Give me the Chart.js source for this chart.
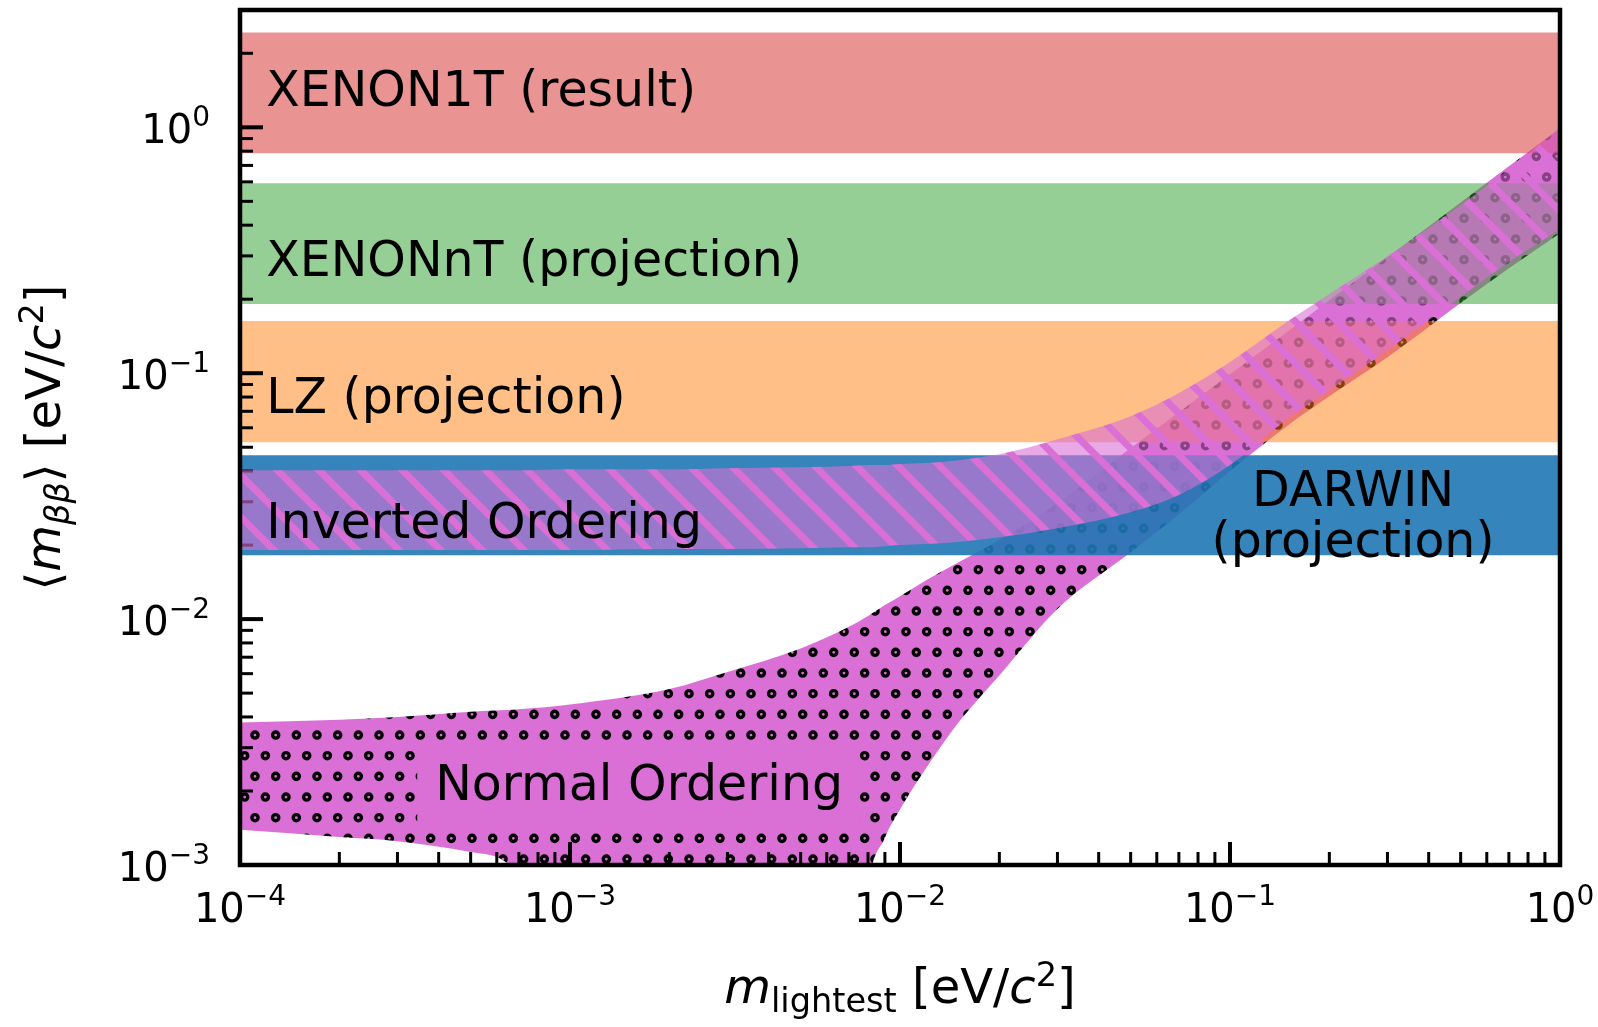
<!DOCTYPE html>
<html>
<head>
<meta charset="utf-8">
<script src="https://cdn.jsdelivr.net/npm/chart.js@4.4.1/dist/chart.umd.min.js"></script>
<style>
  html, body { margin: 0; padding: 0; background: #fff; }
  #wrap { width: 1598px; height: 1027px; position: relative; }
</style>
</head>
<body>
<div id="wrap"><canvas id="chart"></canvas></div>
<script>
// lightest neutrino mass samples (eV) shared by both ordering bands
const mLightest = [1e-4, 2e-4, 3e-4, 5e-4, 7e-4, 1e-3, 2e-3, 3e-3, 5e-3, 7e-3, 8e-3, 9e-3, 1e-2, 1.2e-2,
    1.5e-2, 2e-2, 3e-2, 5e-2, 7e-2, 0.1, 0.15, 0.2, 0.3, 0.5, 0.7, 1.0];

// normal ordering band (lower edge drops below the axis around the cancellation)
const normalUpper = [0.0038, 0.0039, 0.0040, 0.0042, 0.0043, 0.0045, 0.0052, 0.0061, 0.0076, 0.0093, 0.0103,
    0.0114, 0.0124, 0.0144, 0.0170, 0.0210, 0.0296, 0.0496, 0.0694, 0.099, 0.148, 0.198, 0.296, 0.495, 0.694, 0.99];
const normalLower = [0.00139, 0.00130, 0.00125, 0.00113, 0.00090, 0.0001, 0.0001, 0.0001, 0.0001, 0.0001, 0.0008,
    0.00129, 0.00168, 0.00248, 0.00378, 0.0059, 0.0110, 0.0187, 0.0267, 0.040, 0.0615, 0.0806, 0.116, 0.193, 0.267, 0.371];

// inverted ordering band
const invertedUpper = [0.0403, 0.0403, 0.0403, 0.0403, 0.0403, 0.0407, 0.0407, 0.0411, 0.0415, 0.0419, 0.0423,
    0.0423, 0.0427, 0.0431, 0.0443, 0.0468, 0.0539, 0.0669, 0.0830, 0.111, 0.163, 0.210, 0.299, 0.482, 0.675, 1.0];
const invertedLower = [0.0191, 0.0191, 0.0191, 0.0191, 0.0191, 0.0191, 0.0193, 0.0193, 0.0194, 0.0196, 0.0196,
    0.0198, 0.0200, 0.0202, 0.0206, 0.0215, 0.0234, 0.0272, 0.0320, 0.0423, 0.0656, 0.0853, 0.124, 0.204, 0.283, 0.385];

// experiment sensitivity bands
const experiments = ['XENON1T', 'XENONnT', 'LZ', 'DARWIN'];
const bandLow = [0.784, 0.191, 0.0524, 0.0182];
const bandHigh = [2.43, 0.592, 0.163, 0.0464];
const bandColors = ['rgba(214,39,40,0.5)', 'rgba(44,160,44,0.5)', 'rgba(255,127,14,0.5)', 'rgba(31,119,180,0.9)'];

// axis ranges and decade tick exponents
const xRange = [1e-4, 1];
const yRange = [1e-3, 3];
const xDecades = [-4, -3, -2, -1, 0];
const yDecades = [-3, -2, -1, 0];

// text labels placed in data coordinates
const labelTexts = ['XENON1T (result)', 'XENONnT (projection)', 'LZ (projection)', 'Inverted Ordering',
    'Normal Ordering', 'DARWIN', '(projection)'];
const labelM = [1.2e-4, 1.2e-4, 1.2e-4, 1.2e-4, 1.62e-3, 0.236, 0.236];
const labelMbb = [1.217, 0.248, 0.0688, 0.0214, 0.00184, 0.0288, 0.01786];

const FONT = "'DejaVu Sans'";
const LABEL_SIZE = 49;
const font = (size, italic) => `${italic ? 'italic ' : ''}${size}px ${FONT}`;

// --- hatch patterns ---
const dotPattern = () => {
    const w = 62, h = 124, step = 62 / 3;
    const c = document.createElement('canvas');
    c.width = w; c.height = h;
    const g = c.getContext('2d');
    g.fillStyle = 'orchid';
    g.fillRect(0, 0, w, h);
    g.strokeStyle = '#000';
    g.lineWidth = 3.4;
    for (let j = 0; j < 6; j++) {
        const y = 11.7 + j * step;
        const x0 = j % 2 ? 7 : 7 + step / 2;
        for (let i = 0; i < 3; i++) {
            for (const dx of [-w, 0, w]) {
                for (const dy of [-h, 0, h]) {
                    g.beginPath();
                    g.arc(x0 + i * step + dx, y + dy, 3.1, 0, Math.PI * 2);
                    g.stroke();
                }
            }
        }
    }
    return g.createPattern(c, 'repeat');
};

const stripePattern = () => {
    const s = 125, p = s / 3;
    const c = document.createElement('canvas');
    c.width = s; c.height = s;
    const g = c.getContext('2d');
    g.fillStyle = 'rgba(218,112,214,0.6)';
    g.fillRect(0, 0, s, s);
    g.strokeStyle = 'orchid';
    g.lineWidth = 7;
    for (let k = -4; k <= 4; k++) {
        const x = 15.5 + k * p;
        g.beginPath();
        g.moveTo(x - 10, -10);
        g.lineTo(x + s + 10, s + 10);
        g.stroke();
    }
    return g.createPattern(c, 'repeat');
};

// --- text helpers ---
const drawRuns = (ctx, runs, x, y, align) => {
    const widths = runs.map(r => { ctx.font = font(r.s || 48, r.i); return ctx.measureText(r.t).width; });
    const total = widths.reduce((a, b) => a + b, 0);
    let cx = align === 'center' ? x - total / 2 : align === 'right' ? x - total : x;
    runs.forEach((r, i) => {
        ctx.font = font(r.s || 48, r.i);
        ctx.fillText(r.t, cx, y + (r.dy || 0));
        cx += widths[i];
    });
    return total;
};

const expLabel = (e) => [{ t: '10', s: 40 }, { t: (e < 0 ? '\u2212' : '') + Math.abs(e), s: 28, dy: -17 }];

const tickValues = (range) => {
    const out = [];
    const lo = Math.floor(Math.log10(range[0])), hi = Math.ceil(Math.log10(range[1]));
    for (let e = lo; e <= hi; e++) {
        for (let k = 1; k <= 9; k++) {
            const v = k * Math.pow(10, e);
            if (v >= range[0] * 0.999 && v <= range[1] * 1.001) out.push({ v, major: k === 1 });
        }
    }
    return out;
};

// --- datasets ---
const series = (ys) => mLightest.map((m, i) => ({ x: m, y: ys[i] }));
const flat = (v) => [{ x: xRange[0], y: v }, { x: xRange[1], y: v }];
const lineDs = (data, fill, bg) => ({
    data, fill, backgroundColor: bg, borderColor: 'transparent', borderWidth: 0, pointRadius: 0,
    cubicInterpolationMode: 'monotone'
});

const datasets = [
    lineDs(series(normalLower), false, 'transparent'),
    lineDs(series(normalUpper), '-1', dotPattern())
];
experiments.forEach((name, i) => {
    datasets.push(lineDs(flat(bandLow[i]), false, 'transparent'));
    datasets.push(lineDs(flat(bandHigh[i]), '-1', bandColors[i]));
});
datasets.push(lineDs(series(invertedLower), false, 'transparent'));
datasets.push(lineDs(series(invertedUpper), '-1', stripePattern()));
// draw in array order: first dataset at the bottom
datasets.forEach((d, i) => { d.order = datasets.length - i; });
const LAST_BAND_INDEX = 9;

// --- overlay: ticks, labels, frame ---
const overlay = {
    id: 'overlay',
    afterDatasetDraw(chart, args) {
        if (args.index !== LAST_BAND_INDEX) return;
        const { ctx, chartArea: a, scales: { x, y } } = chart;
        ctx.save();
        ctx.strokeStyle = '#000';
        tickValues(xRange).forEach(t => {
            const px = x.getPixelForValue(t.v);
            ctx.lineWidth = t.major ? 4 : 3;
            ctx.beginPath();
            ctx.moveTo(px, a.bottom);
            ctx.lineTo(px, a.bottom - (t.major ? 23 : 13));
            ctx.stroke();
        });
        tickValues(yRange).forEach(t => {
            const py = y.getPixelForValue(t.v);
            ctx.lineWidth = t.major ? 4 : 3;
            ctx.beginPath();
            ctx.moveTo(a.left, py);
            ctx.lineTo(a.left + (t.major ? 23 : 13), py);
            ctx.stroke();
        });
        ctx.restore();
    },
    afterDatasetsDraw(chart) {
        const { ctx, chartArea: a, scales: { x, y } } = chart;
        ctx.save();
        ctx.textAlign = 'left';
        ctx.textBaseline = 'alphabetic';

        // plain box behind the normal ordering label
        ctx.font = font(LABEL_SIZE);
        const noIdx = 4;
        const noX = x.getPixelForValue(labelM[noIdx]);
        const noY = y.getPixelForValue(labelMbb[noIdx]);
        const noW = ctx.measureText(labelTexts[noIdx]).width;
        ctx.fillStyle = 'orchid';
        ctx.fillRect(noX - noW / 2 - 18, noY - 55, noW + 34, 85);

        ctx.fillStyle = '#000';
        labelTexts.forEach((text, i) => {
            const centered = i >= 4;
            drawRuns(ctx, [{ t: text, s: LABEL_SIZE }], x.getPixelForValue(labelM[i]), y.getPixelForValue(labelMbb[i]),
                centered ? 'center' : 'left');
        });

        // tick labels
        xDecades.forEach(e => drawRuns(ctx, expLabel(e), x.getPixelForValue(Math.pow(10, e)), a.bottom + 57, 'center'));
        yDecades.forEach(e => drawRuns(ctx, expLabel(e), a.left - 30, y.getPixelForValue(Math.pow(10, e)) + 16, 'right'));

        // axis titles
        drawRuns(ctx, [
            { t: 'm', i: true }, { t: 'lightest', s: 33.6, dy: 9 }, { t: ' [eV/' },
            { t: 'c', i: true }, { t: '2', s: 33.6, dy: -17 }, { t: ']' }
        ], (a.left + a.right) / 2, a.bottom + 138, 'center');

        ctx.translate(60, (a.top + a.bottom) / 2);
        ctx.rotate(-Math.PI / 2);
        drawRuns(ctx, [
            { t: '\u27E8' }, { t: 'm', i: true }, { t: '\u03B2\u03B2', s: 33.6, i: true, dy: 9 }, { t: '\u27E9' },
            { t: ' [eV/' }, { t: 'c', i: true }, { t: '2', s: 33.6, dy: -17 }, { t: ']' }
        ], 0, 0, 'center');
        ctx.restore();

        // frame
        ctx.save();
        ctx.strokeStyle = '#000';
        ctx.lineWidth = 4.5;
        ctx.strokeRect(a.left, a.top, a.right - a.left, a.bottom - a.top);
        ctx.restore();
    }
};

new Chart(document.getElementById('chart').getContext('2d'), {
    type: 'line',
    data: { datasets },
    options: {
        responsive: true,
        maintainAspectRatio: false,
        devicePixelRatio: 1,
        animation: false,
        layout: { padding: { left: 240, right: 38, top: 10, bottom: 162 } },
        scales: {
            x: { type: 'logarithmic', min: xRange[0], max: xRange[1], display: false },
            y: { type: 'logarithmic', min: yRange[0], max: yRange[1], display: false }
        },
        plugins: {
            legend: { display: false },
            tooltip: { enabled: false },
            filler: { propagate: false }
        }
    },
    plugins: [overlay]
});
</script>
</body>
</html>
